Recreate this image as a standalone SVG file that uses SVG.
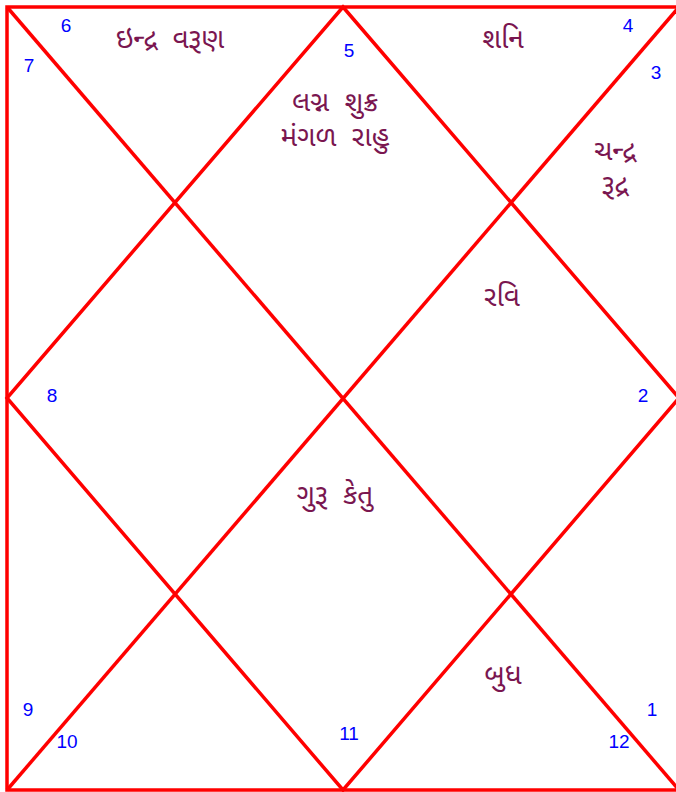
<svg xmlns="http://www.w3.org/2000/svg" width="676" height="792" viewBox="0 0 676 792">
<style>
.ln{stroke:#ff0000;stroke-width:3.5;fill:none}
.num{font-family:"Liberation Sans",Arial,sans-serif;font-size:19px;fill:#0000ff;text-anchor:middle}
.pl{font-family:"Noto Sans Gujarati","Lohit Gujarati","Noto Sans",sans-serif;font-size:28px;fill:#7a1650;text-anchor:middle;word-spacing:8px}
</style>
<rect width="676" height="792" fill="#ffffff"/>
<g id="connectors">
<rect class="ln" x="7" y="7" width="672" height="783"/>
<line class="ln" x1="7" y1="7" x2="679" y2="790"/>
<line class="ln" x1="679" y1="7" x2="7" y2="790"/>
<polygon class="ln" points="343,7 679,398 343,790 7,398"/>
</g>
<g id="house1"><text class="num" x="349" y="57">5</text><text class="pl" x="335" y="111">લગ્ન શુક્ર</text><text class="pl" x="335" y="146">મંગળ રાહુ</text></g>
<g id="house2"><text class="num" x="66" y="32">6</text><text class="pl" x="170" y="48">ઇન્દ્ર વરૂણ</text></g>
<g id="house3"><text class="num" x="29" y="72">7</text></g>
<g id="house4"><text class="num" x="52" y="402">8</text></g>
<g id="house5"><text class="num" x="28" y="716">9</text></g>
<g id="house6"><text class="num" x="67" y="748">10</text></g>
<g id="house7"><text class="num" x="349" y="740">11</text><text class="pl" x="335" y="504">ગુરૂ કેતુ</text></g>
<g id="house8"><text class="num" x="619" y="748">12</text><text class="pl" x="503" y="684">બુધ</text></g>
<g id="house9"><text class="num" x="652" y="716">1</text></g>
<g id="house10"><text class="num" x="643" y="402">2</text><text class="pl" x="502" y="306">રવિ</text></g>
<g id="house11"><text class="num" x="656" y="79">3</text><text class="pl" x="615" y="160">ચન્દ્ર</text><text class="pl" x="615" y="194">રૂદ્ર</text></g>
<g id="house12"><text class="num" x="628" y="32">4</text><text class="pl" x="503" y="48">શનિ</text></g>
</svg>
